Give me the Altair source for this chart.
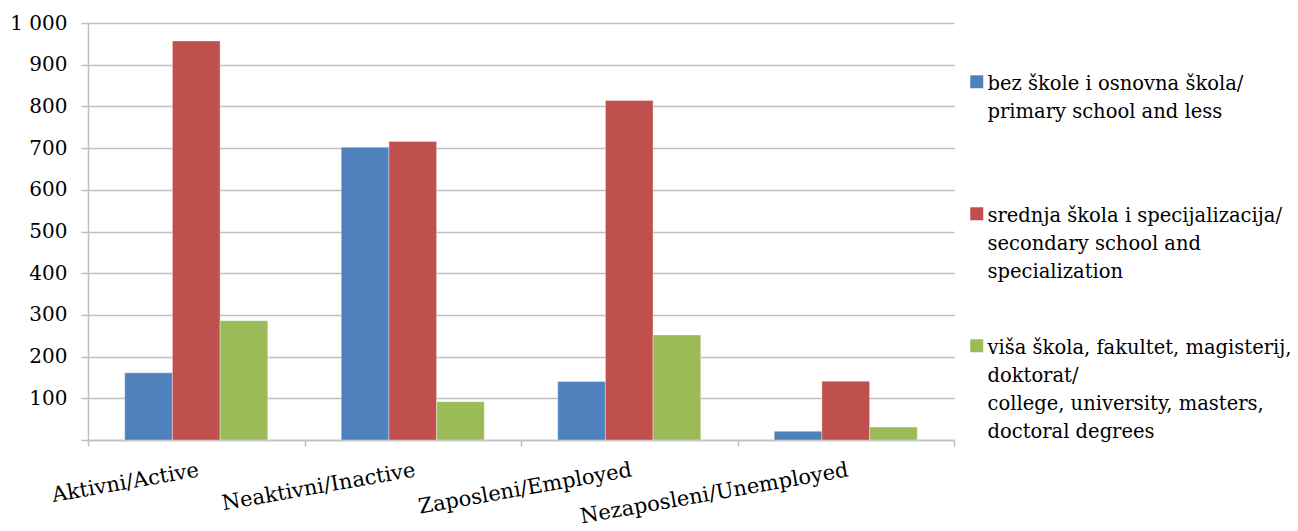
import altair as alt
import pandas as pd

categories = ["Aktivni/Active", "Neaktivni/Inactive", "Zaposleni/Employed", "Nezaposleni/Unemployed"]
series = [
    "bez škole i osnovna škola/|primary school and less",
    "srednja škola i specijalizacija/|secondary school and|specialization",
    "viša škola, fakultet, magisterij,|doktorat/|college, university, masters,|doctoral degrees",
]
primary = [161, 702, 140, 21]
secondary = [957, 716, 814, 141]
tertiary = [286, 92, 252, 31]
colors = ["#4F81BD", "#C0504D", "#9BBB59"]

rows = []
for s_i, vals in enumerate([primary, secondary, tertiary]):
    for c, v in zip(categories, vals):
        rows.append({"category": c, "series": series[s_i], "order": s_i, "value": v})
df = pd.DataFrame(rows)

serif = "DejaVu Serif"
grid_col = "#BFBFBF"

chart = alt.Chart(df).mark_bar(stroke="#FFFFFF", strokeWidth=0.6, strokeOpacity=0.6).encode(
    x=alt.X("category:N", sort=categories, title=None,
            scale=alt.Scale(paddingInner=0, paddingOuter=0),
            axis=alt.Axis(labelAngle=350, labelAlign="right", labelBaseline="top",
                          labelPadding=13, labelFontSize=21, labelLineHeight=21,
                          labelFont=serif,
                          labelColor="#000000", tickBand="extent", tickColor=grid_col,
                          tickSize=6, tickWidth=1.5, domainColor=grid_col, domainWidth=1.5,
                          grid=False, labelOverlap=False, labelLimit=400)),
    xOffset=alt.XOffset("order:O", scale=alt.Scale(paddingInner=0, paddingOuter=0.77)),
    y=alt.Y("value:Q", title=None,
            scale=alt.Scale(domain=[0, 1000], nice=False),
            axis=alt.Axis(values=list(range(0, 1001, 100)),
                          labelExpr="datum.value == 0 ? '' : replace(format(datum.value, ','), ',', ' ')",
                          labelFont=serif, labelFontSize=20, labelLineHeight=20, labelColor="#000000",
                          labelPadding=14, tickSize=7, tickColor=grid_col, tickWidth=1.5,
                          domainColor=grid_col, domainWidth=1.5,
                          gridColor=grid_col, gridWidth=1.5)),
    color=alt.Color("series:N", sort=series,
                    scale=alt.Scale(domain=series, range=colors),
                    legend=alt.Legend(title=None, orient="none", legendX=879, legendY=42,
                                      symbolType="M-1,0.08H1V2.08H-1Z", symbolSize=169, symbolStrokeWidth=0,
                                      labelExpr="split(datum.label, '|')",
                                      labelFont=serif, labelFontSize=19.5, labelColor="#000000",
                                      labelBaseline="top", labelLimit=400, labelOffset=1,
                                      gridAlign="all", rowPadding=19, padding=0)),
).properties(
    width=866, height=417,
    padding={"left": 80, "top": 15, "right": 336, "bottom": 90},
    autosize=alt.AutoSizeParams(type="none"),
).configure(style={"guide-label": {"lineHeight": 28}}).configure_view(stroke=None)

chart.save("out.html", embed_options={"renderer": "svg", "actions": False})
